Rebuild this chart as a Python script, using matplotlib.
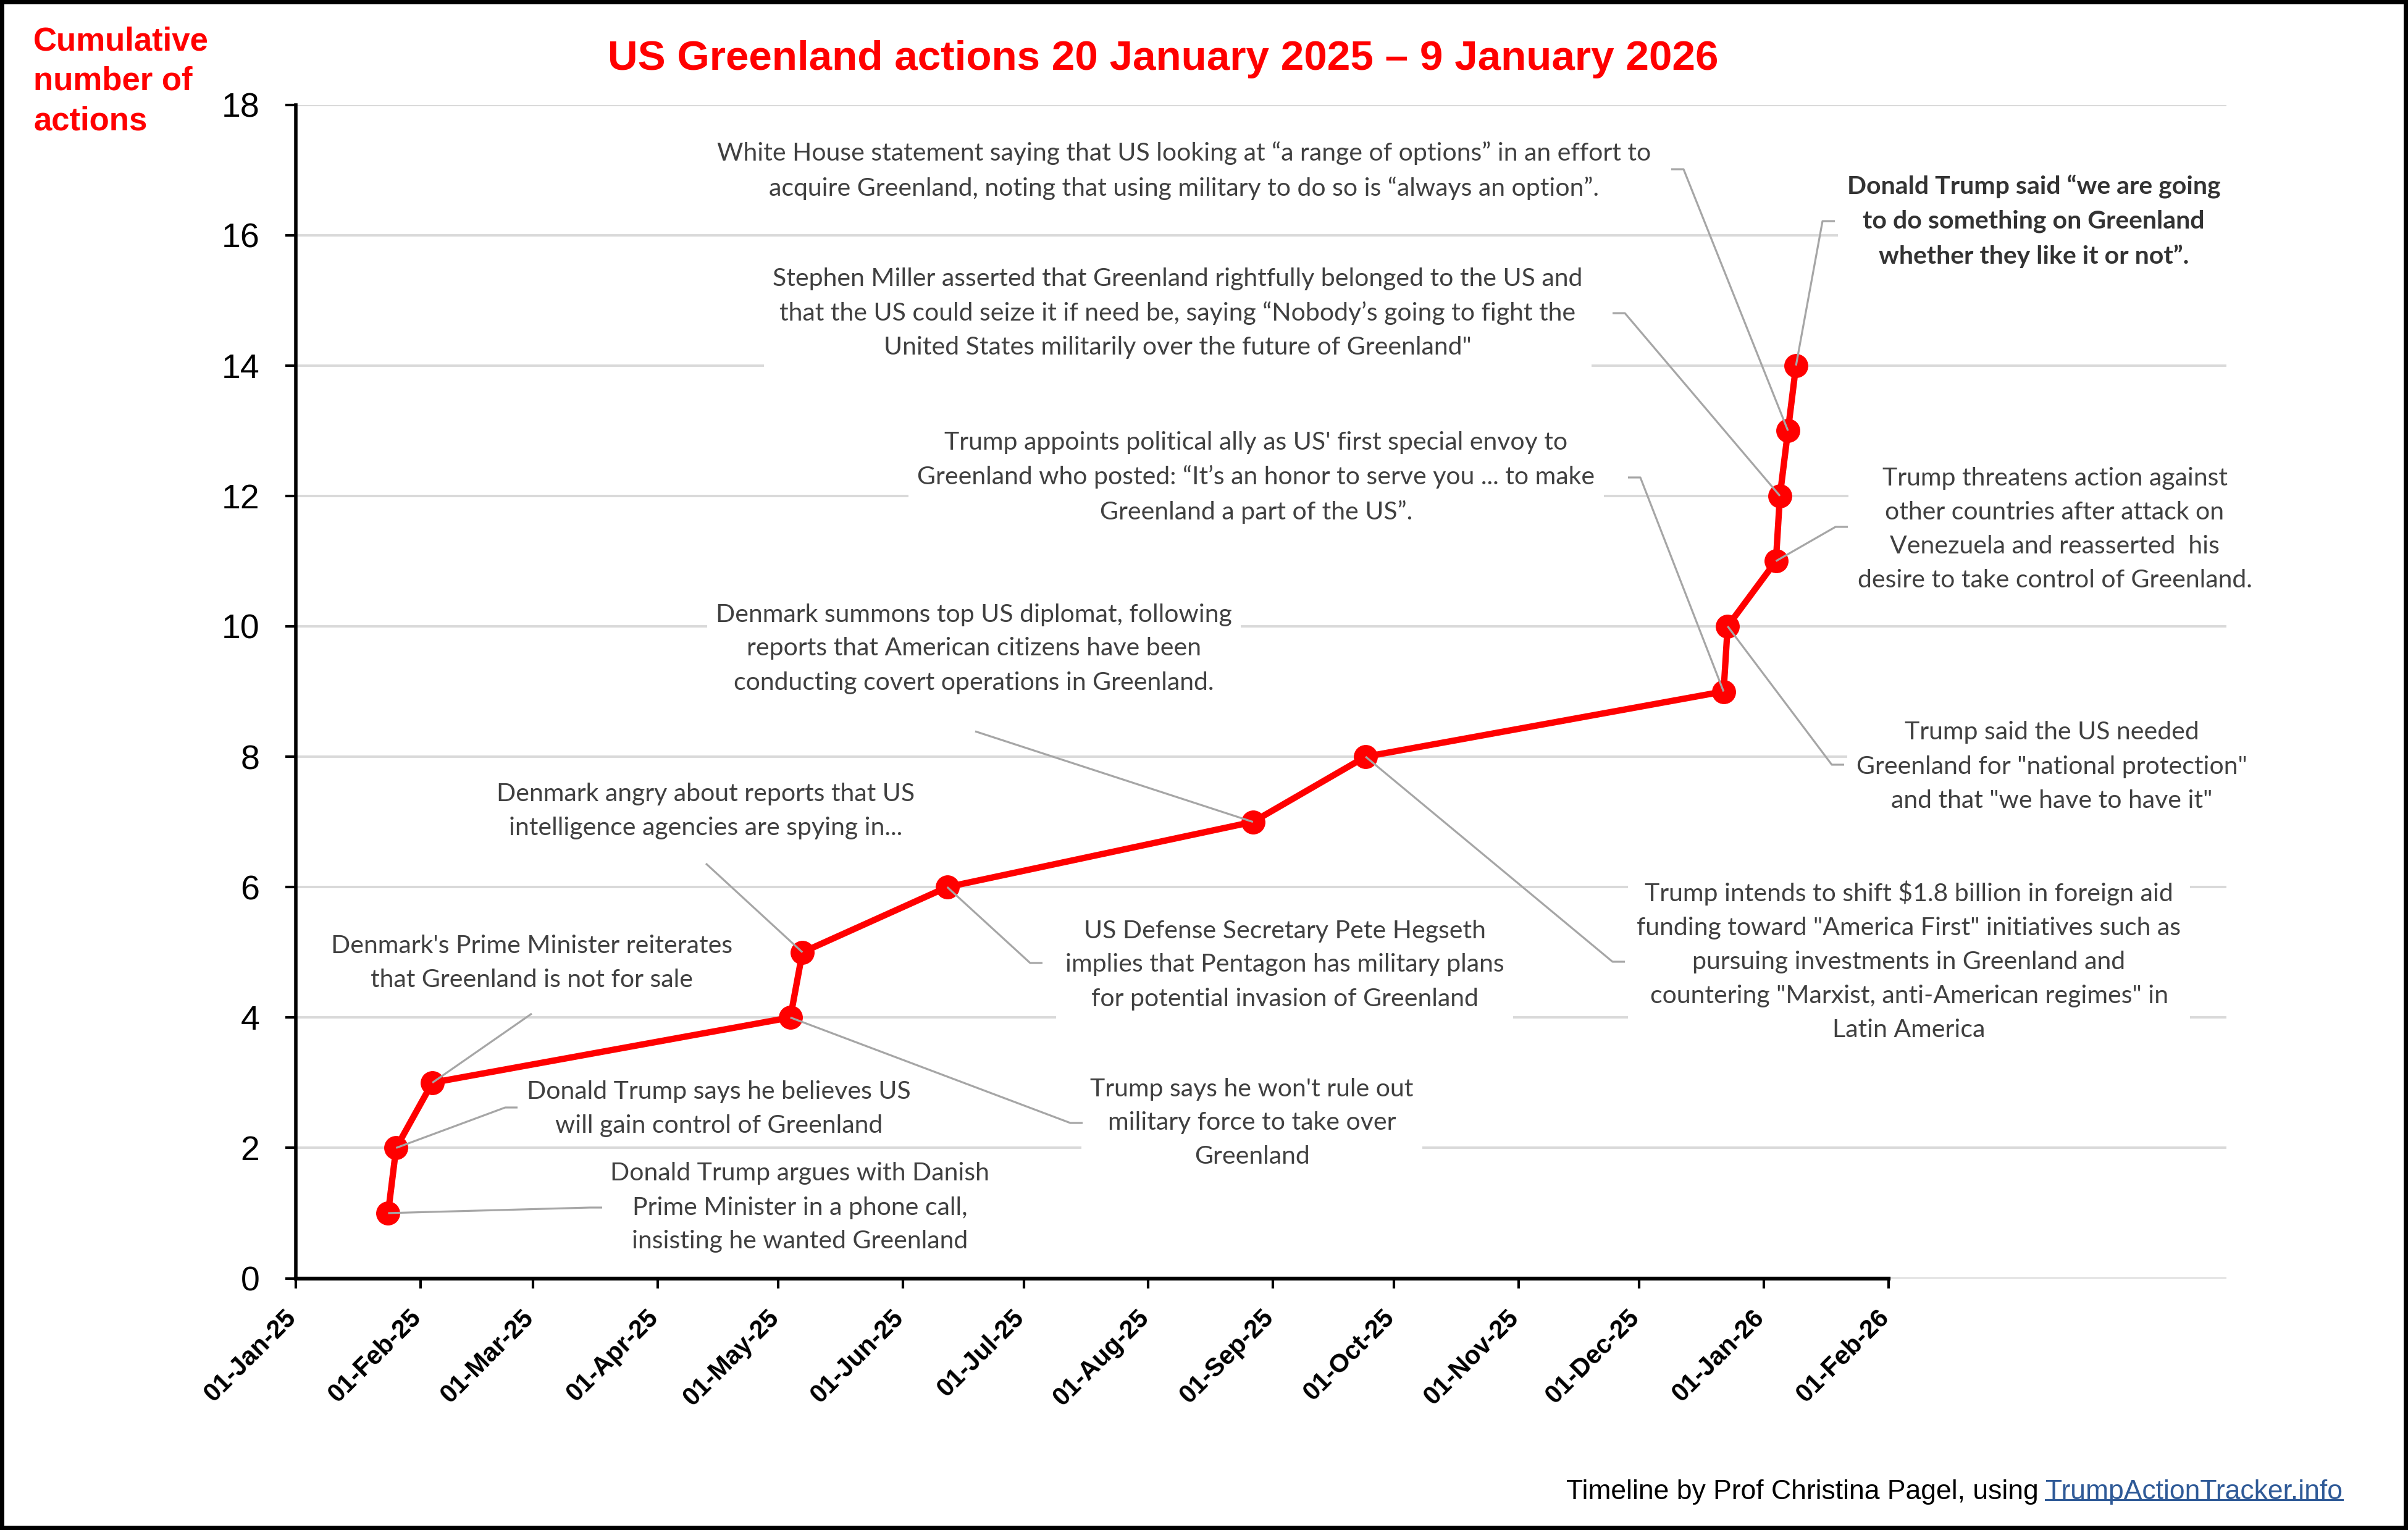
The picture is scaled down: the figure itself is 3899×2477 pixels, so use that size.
import matplotlib
matplotlib.use("Agg")
import matplotlib.pyplot as plt
import matplotlib.dates as mdates
from matplotlib.transforms import ScaledTranslation
from matplotlib.patches import Rectangle
from matplotlib.lines import Line2D
import pandas as pd

# ---------------- data ----------------
event_dates = ["2025-01-24", "2025-01-26", "2025-02-04", "2025-05-04", "2025-05-07",
               "2025-06-12", "2025-08-27", "2025-09-24", "2025-12-22", "2025-12-23",
               "2026-01-04", "2026-01-05", "2026-01-07", "2026-01-09"]
cumulative_actions = [1, 2, 3, 4, 5, 6, 7, 8, 9, 10, 11, 12, 13, 14]

event_labels = [
    "Donald Trump argues with Danish\nPrime Minister in a phone call,\ninsisting he wanted Greenland",
    "Donald Trump says he believes US\nwill gain control of Greenland",
    "Denmark's Prime Minister reiterates\nthat Greenland is not for sale",
    "Trump says he won't rule out\nmilitary force to take over\nGreenland",
    "Denmark angry about reports that US\nintelligence agencies are spying in...",
    "US Defense Secretary Pete Hegseth\nimplies that Pentagon has military plans\nfor potential invasion of Greenland",
    "Denmark summons top US diplomat, following\nreports that American citizens have been\nconducting covert operations in Greenland.",
    "Trump intends to shift \\$1.8 billion in foreign aid\nfunding toward \"America First\" initiatives such as\npursuing investments in Greenland and\ncountering \"Marxist, anti-American regimes\" in\nLatin America",
    "Trump appoints political ally as US' first special envoy to\nGreenland who posted: \u201cIt\u2019s an honor to serve you ... to make\nGreenland a part of the US\u201d.",
    "Trump said the US needed\nGreenland for \"national protection\"\nand that \"we have to have it\"",
    "Trump threatens action against\nother countries after attack on\nVenezuela and reasserted  his\ndesire to take control of Greenland.",
    "Stephen Miller asserted that Greenland rightfully belonged to the US and\nthat the US could seize it if need be, saying \u201cNobody\u2019s going to fight the\nUnited States militarily over the future of Greenland\"",
    "White House statement saying that US looking at \u201ca range of options\u201d in an effort to\nacquire Greenland, noting that using military to do so is \u201calways an option\u201d.",
    "Donald Trump said \u201cwe are going\nto do something on Greenland\nwhether they like it or not\u201d.",
]
bold_label = [False] * 13 + [True]

y_ticks = [0, 2, 4, 6, 8, 10, 12, 14, 16, 18]
x_tick_dates = pd.date_range("2025-01-01", "2026-02-01", freq="MS")
x_start, x_axis_end, x_plot_end = "2025-01-01", "2026-02-01", "2026-04-26"

title_text = "US Greenland actions 20 January 2025 \u2013 9 January 2026"
ylabel_text = "Cumulative\nnumber of\nactions"
credit_black = "Timeline by Prof Christina Pagel, using"
credit_link = "TrumpActionTracker.info"

# ---------------- layout (reference pixel coords, y down) ----------------
W, H = 3899, 2477
label_centers = [(1295, 1955), (1164, 1795), (861, 1559), (2027, 1818), (1143, 1313),
                 (2080, 1562), (1577, 1050), (3091, 1556), (2034, 773), (3322, 1241),
                 (3327, 857), (1907, 507), (1917, 276), (3293, 358)]
leader_ends = [(975, 1955, "r"), (838, 1793, "r"), (861, 1641, "s"), (1753, 1818, "r"),
               (1143, 1398, "s"), (1688, 1559, "r"), (1579, 1184, "s"), (2631, 1557, "r"),
               (2636, 773, "l"), (2986, 1238, "r"), (2992, 853, "r"), (2611, 507, "l"),
               (2706, 274, "l"), (2971, 358, "r")]

RED = "#FF0000"
TXT = "#404040"
LEAD = "#A6A6A6"
GRID = "#D9D9D9"

fig = plt.figure(figsize=(W / 100, H / 100), dpi=100)
fig.patch.set_facecolor("white")
ax = fig.add_axes([478.6 / W, 1 - 2069.5 / H, (3605 - 478.6) / W, 1900 / H])

dates = pd.to_datetime(event_dates)
ax.set_xlim(pd.Timestamp(x_start), pd.Timestamp(x_plot_end))
ax.set_ylim(0, 18)

ax.set_axisbelow(True)
ax.yaxis.grid(True, color=GRID, linewidth=2.8)
ax.xaxis.grid(False)

for s in ["top", "right"]:
    ax.spines[s].set_visible(False)
ax.spines["left"].set_linewidth(4.0)
ax.spines["bottom"].set_linewidth(4.5)
ax.spines["bottom"].set_bounds(mdates.date2num(pd.Timestamp(x_start)),
                               mdates.date2num(pd.Timestamp(x_axis_end)))

ax.set_yticks(y_ticks)
ax.set_yticklabels([str(v) for v in y_ticks], fontsize=40, family=["Liberation Sans", "DejaVu Sans"])
ax.tick_params(axis="y", length=12, width=3, pad=30, colors="black")

ax.set_xticks(x_tick_dates)
ax.set_xticklabels([d.strftime("%d-%b-%y") for d in x_tick_dates], rotation=45,
                   ha="right", va="top", fontsize=30, fontweight="bold",
                   family=["Liberation Sans", "DejaVu Sans"])
ax.tick_params(axis="x", length=11.5, width=3, pad=20)
off = ScaledTranslation(9 / 100, 0, fig.dpi_scale_trans)
for lab in ax.get_xticklabels():
    lab.set_transform(lab.get_transform() + off)

# line + markers
ax.plot(dates, cumulative_actions, color=RED, linewidth=7.4, marker="o",
        markersize=27, markerfacecolor=RED, markeredgecolor=RED, zorder=3,
        clip_on=False)

inv = ax.transData.inverted()


def px2data(x, y):
    return inv.transform((x, H - y))


# labels and leader lines
for i, (lab, (cx, cy), (ex, ey, kind)) in enumerate(zip(event_labels, label_centers, leader_ends)):
    ax.text(cx / W, 1 - cy / H, lab, transform=fig.transFigure, ha="center", va="center",
            fontsize=29.5, color="#333333" if bold_label[i] else TXT,
            fontweight="bold" if bold_label[i] else "normal",
            family=["Lato", "DejaVu Sans"], linespacing=1.6, zorder=2,
            bbox=dict(boxstyle="square,pad=0.35", facecolor="white", edgecolor="none"))
    px = mdates.date2num(dates[i])
    py = cumulative_actions[i]
    pts = [(px, py)]
    if kind == "r":
        pts.append(tuple(px2data(ex - 20, ey)))
    elif kind == "l":
        pts.append(tuple(px2data(ex + 20, ey)))
    pts.append(tuple(px2data(ex, ey)))
    ax.plot([p[0] for p in pts], [p[1] for p in pts], color=LEAD, linewidth=2.3,
            zorder=4, clip_on=False, solid_capstyle="butt")

# title and axis label
fig.text(1883 / W, 1 - 96 / H, title_text, ha="center", va="center", fontsize=48.5,
         fontweight="bold", color=RED, family=["Liberation Sans", "DejaVu Sans"])
fig.text(54 / W, 1 - 42 / H, ylabel_text, ha="left", va="top", fontsize=38,
         fontweight="bold", color=RED, family=["Liberation Sans", "DejaVu Sans"],
         linespacing=1.38)

# credit
t1 = fig.text(2536 / W, 1 - 2436 / H, credit_black, ha="left", va="bottom", fontsize=32,
              color="black", family=["Liberation Sans", "DejaVu Sans"])
t2 = fig.text(0, 0, credit_link, fontsize=32, color="#2F5A97",
              family=["Liberation Sans", "DejaVu Sans"], ha="left", va="bottom")
fig.canvas.draw()
r = fig.canvas.get_renderer()
b1 = t1.get_window_extent(r)
t2.set_position(((b1.x1 + 11) / W, b1.y0 / H))
fig.canvas.draw()
b2 = t2.get_window_extent(r)
uy = b2.y0 + 0.2 * b2.height
fig.add_artist(Line2D([b2.x0 / W, b2.x1 / W], [uy / H, uy / H], transform=fig.transFigure,
                      color="#2F5A97", linewidth=2.2))

# black frame
fig.add_artist(Rectangle((0, 0), 1, 1, transform=fig.transFigure, fill=False,
                         edgecolor="black", linewidth=10, zorder=10))

fig.savefig("out.png", dpi=100)
